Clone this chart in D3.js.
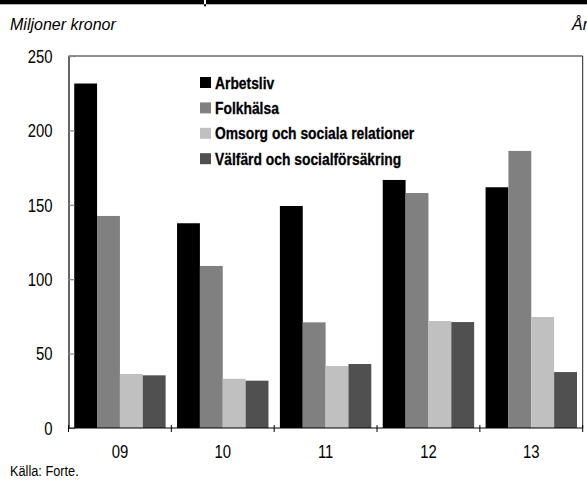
<!DOCTYPE html>
<html>
<head>
<meta charset="utf-8">
<script src="https://cdn.jsdelivr.net/npm/d3@7"></script>
<style>
  html, body { margin: 0; padding: 0; background: #fff; }
  svg { display: block; }
</style>
</head>
<body>
<svg id="chart" width="587" height="486"></svg>
<script>
// Research funding by area, millions of SEK
const years = ["09", "10", "11", "12", "13"];
const seriesNames = [
  "Arbetsliv",
  "Folkhälsa",
  "Omsorg och sociala relationer",
  "Välfärd och socialförsäkring"
];
const arbetsliv = [231.5, 137.6, 149.2, 166.7, 161.8];
const folkhalsa = [142.5, 108.9, 71.0, 157.9, 186.2];
const omsorg    = [36.3, 33.1, 41.7, 71.9, 74.6];
const valfard   = [35.4, 31.8, 43.0, 71.2, 37.6];
const yTicks = [0, 50, 100, 150, 200, 250];
const colors = ["#000000", "#808080", "#c0c0c0", "#505050"];

const seriesValues = [arbetsliv, folkhalsa, omsorg, valfard];

const FONT = "Liberation Sans, Arial, sans-serif";
const SQUEEZE = 0.85; // horizontal squeeze to get a condensed look

// place a condensed text at (x, y)
function condensed(sel, x, y, sx) {
  sel.attr("x", 0).attr("y", 0)
     .attr("transform", `translate(${x},${y}) scale(${sx},1)`)
     .attr("font-family", FONT);
  return sel;
}

const svg = d3.select("#chart");
const plot = { left: 68.5, right: 582.7, top: 56, bottom: 428 };

// header band
svg.append("rect").attr("x", 0).attr("y", 0).attr("width", 587).attr("height", 4.3).attr("fill", "#000");
svg.append("rect").attr("x", 204).attr("y", 0).attr("width", 2).attr("height", 4.3).attr("fill", "#fff");
svg.append("rect").attr("x", 204).attr("y", 4.3).attr("width", 2).attr("height", 2).attr("fill", "#000");

svg.append("text")
  .attr("x", 10).attr("y", 30)
  .attr("font-family", FONT)
  .attr("font-style", "italic")
  .attr("font-size", 16)
  .attr("fill", "#000")
  .text("Miljoner kronor");

svg.append("text")
  .attr("x", 572).attr("y", 30)
  .attr("font-family", FONT)
  .attr("font-style", "italic")
  .attr("font-size", 16)
  .attr("fill", "#000")
  .text("År");

const x = d3.scaleBand().domain(years).range([plot.left, plot.right]).paddingInner(0).paddingOuter(0);
const xs = d3.scaleBand().domain(d3.range(seriesNames.length)).range([0, x.bandwidth()]).paddingInner(0).paddingOuter(0.25);
const y = d3.scaleLinear().domain([0, 250]).range([plot.bottom, plot.top]);

// plot frame (top and right)
svg.append("path")
  .attr("d", `M${plot.left},${plot.top}H${plot.right}V${plot.bottom}`)
  .attr("fill", "none").attr("stroke", "#222").attr("stroke-width", 1);

// bars
const groups = svg.append("g").selectAll("g")
  .data(years)
  .join("g")
  .attr("transform", d => `translate(${x(d)},0)`);

groups.selectAll("rect")
  .data((yr, i) => seriesValues.map((vals, s) => ({ s, v: vals[i] })))
  .join("rect")
  .attr("x", d => xs(d.s))
  .attr("width", xs.bandwidth())
  .attr("y", d => y(d.v))
  .attr("height", d => y(0) - y(d.v))
  .attr("fill", d => colors[d.s]);

// y axis
const yAxis = d3.axisLeft(y).tickValues(yTicks).tickSize(-6).tickFormat(d3.format("d"));
const gy = svg.append("g").attr("transform", `translate(${plot.left},0)`).call(yAxis);
gy.select(".domain").attr("stroke", "#000").attr("stroke-width", 1.2);
gy.selectAll(".tick line").attr("stroke", "#888").attr("stroke-width", 1.2);
gy.selectAll(".tick text").each(function () {
  condensed(d3.select(this), -16, 0, SQUEEZE)
    .attr("dy", "0.36em")
    .attr("font-size", 17.5)
    .attr("fill", "#000");
});

// x axis with crossing ticks at category boundaries
const gx = svg.append("g").attr("transform", `translate(0,${plot.bottom})`);
gx.append("line").attr("x1", plot.left).attr("x2", plot.right).attr("y1", 0).attr("y2", 0)
  .attr("stroke", "#000").attr("stroke-width", 1.2);
const bounds = years.map(d => x(d)).concat([x(years[years.length - 1]) + x.bandwidth()]);
gx.selectAll("line.tk").data(bounds).join("line").attr("class", "tk")
  .attr("x1", d => d).attr("x2", d => d).attr("y1", -3).attr("y2", 4)
  .attr("stroke", "#000").attr("stroke-width", 1);
gx.selectAll("text").data(years).join("text")
  .each(function (d) {
    condensed(d3.select(this), x(d) + x.bandwidth() / 2, 30, SQUEEZE);
  })
  .attr("text-anchor", "middle")
  .attr("font-size", 17.5)
  .attr("fill", "#000")
  .text(d => d);

// legend
const legend = svg.append("g").attr("transform", "translate(200,77)");
const rows = legend.selectAll("g").data(seriesNames).join("g")
  .attr("transform", (d, i) => `translate(0,${i * 25.4})`);
rows.append("rect").attr("width", 11).attr("height", 11).attr("fill", (d, i) => colors[i]);
rows.append("text")
  .each(function () { condensed(d3.select(this), 15, 11.5, 0.84); })
  .attr("font-size", 16.5)
  .attr("font-weight", "bold")
  .attr("fill", "#000")
  .attr("stroke", "#000")
  .attr("stroke-width", 0.3)
  .text(d => d);

// source
svg.append("text")
  .call(s => condensed(s, 10, 476, SQUEEZE))
  .attr("font-size", 15)
  .attr("fill", "#000")
  .text("Källa: Forte.");
</script>
</body>
</html>
